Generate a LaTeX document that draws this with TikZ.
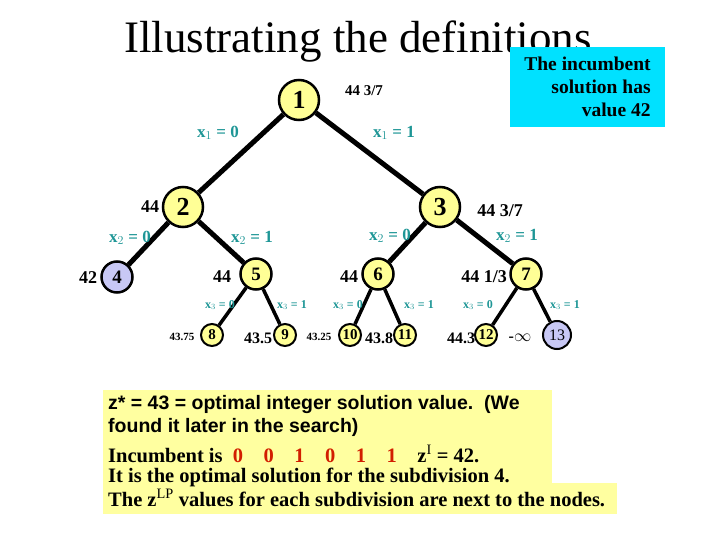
\documentclass[tikz,border=0pt]{standalone}
\usepackage{fontspec}
\setmainfont{Liberation Serif}
\newfontfamily\arial{Liberation Sans}
\definecolor{nodey}{RGB}{255,255,150}
\definecolor{nodeb}{RGB}{200,200,245}
\definecolor{lab}{RGB}{30,150,150}
\definecolor{incb}{RGB}{0,225,255}
\definecolor{boxy}{RGB}{255,255,160}
\definecolor{redn}{RGB}{210,30,0}
\tikzset{
 tn/.style={circle,draw,line width=2.5pt,fill=nodey,inner sep=0pt,font=\bfseries},
 big/.style={tn,minimum size=40pt,font=\bfseries\fontsize{26}{26}\selectfont},
 mid/.style={tn,minimum size=31pt,font=\bfseries\fontsize{19}{19}\selectfont},
 sml/.style={tn,minimum size=22pt,line width=2pt,font=\bfseries\fontsize{15}{15}\selectfont},
 edge/.style={line width=5pt},
 edges/.style={line width=3.5pt},
 lb/.style={text=lab,font=\bfseries\fontsize{17}{17}\selectfont},
 lbs/.style={text=lab,font=\bfseries\fontsize{12}{12}\selectfont},
 val/.style={font=\bfseries\fontsize{18}{18}\selectfont},
 vals/.style={font=\bfseries\fontsize{16}{16}\selectfont},
 bt/.style={anchor=north west,inner sep=0pt,font=\bfseries\fontsize{20.5}{20.5}\selectfont},
}
\begin{document}
\begin{tikzpicture}[x=1pt,y=-1pt]
\useasboundingbox (0,0) rectangle (720,540);
\node[font=\fontsize{45}{45}\selectfont] (title) at (358,42) {Illustrating the definitions};
\node[fill=incb,minimum width=155pt,minimum height=80pt,inner xsep=8pt,align=right,font=\bfseries\fontsize{19.5}{23}\selectfont] (inc) at (587.5,87) {The incumbent\\solution has\\value 42};
\node[big] (n1) at (299,100) {1};
\node[big] (n2) at (183,207) {2};
\node[big] (n3) at (440,207) {3};
\node[mid,fill=nodeb] (n4) at (117,277) {4};
\node[mid] (n5) at (256,274) {5};
\node[mid] (n6) at (378,274) {6};
\node[mid] (n7) at (526,274) {7};
\node[sml] (n8) at (212,335) {8};
\node[sml] (n9) at (285,335) {9};
\node[sml] (n10) at (350,335) {10};
\node[sml] (n11) at (405,335) {11};
\node[sml] (n12) at (486,335) {12};
\node[sml,minimum size=28pt,fill=nodeb,font=\fontsize{16}{16}\selectfont] (n13) at (557,335) {13};
\draw[edge] (n1) -- (n2);
\draw[edge] (n1) -- (n3);
\draw[edge] (n2) -- (n4);
\draw[edge] (n2) -- (n5);
\draw[edge] (n3) -- (n6);
\draw[edge] (n3) -- (n7);
\draw[edges] (n5) -- (n8);
\draw[edges] (n5) -- (n9);
\draw[edges] (n6) -- (n10);
\draw[edges] (n6) -- (n11);
\draw[edges] (n7) -- (n12);
\draw[edges] (n7) -- (n13);
\node[font=\bfseries\fontsize{15}{15}\selectfont] (v1) at (364,91) {44 3/7};
\node[lb] (e12) at (218,133) {x$_1$ = 0};
\node[lb] (e13) at (394,133) {x$_1$ = 1};
\node[val] (v2) at (150,207) {44};
\node[val] (v3) at (500,211) {44 3/7};
\node[lb] (e24) at (130,238) {x$_2$ = 0};
\node[lb] (e25) at (252,238) {x$_2$ = 1};
\node[lb] (e36) at (390,236) {x$_2$ = 0};
\node[lb] (e37) at (517,236) {x$_2$ = 1};
\node[val] (v4) at (88,278) {42};
\node[val] (v5) at (222,277) {44};
\node[val] (v6) at (349,277) {44};
\node[val] (v7) at (484,277) {44 1/3};
\node[lbs] (e58) at (220,305) {x$_3$ = 0};
\node[lbs] (e59) at (292,305) {x$_3$ = 1};
\node[lbs] (e610) at (348,305) {x$_3$ = 0};
\node[lbs] (e611) at (419,305) {x$_3$ = 1};
\node[lbs] (e712) at (478,305) {x$_3$ = 0};
\node[lbs] (e713) at (565,305) {x$_3$ = 1};
\node[font=\bfseries\fontsize{11}{11}\selectfont] (v8) at (182,337) {43.75};
\node[vals] (v9) at (258,338) {43.5};
\node[font=\bfseries\fontsize{11}{11}\selectfont] (v10) at (319,337) {43.25};
\node[vals] (v11) at (379,338) {43.8};
\node[vals] (v12) at (461,338) {44.3};
\node[vals] (v13) at (520,338) {-$\infty$};
\fill[boxy] (103,390) rectangle (552,483);
\fill[boxy] (103,483) rectangle (617,514);
\node[anchor=north west,align=left,inner sep=0pt,font=\arial\bfseries\fontsize{19.5}{23}\selectfont] (t1) at (108,395) {z* = 43 = optimal integer solution value.\ \ (We\\found it later in the search)};
\node[bt] (t2) at (108,445) {Incumbent is \ \textcolor{redn}{0\quad 0\quad 1\quad 0\quad 1\quad 1}\quad z$^{\mathrm{I}}$ = 42.};
\node[bt] (t3) at (108,468) {It is the optimal solution for the subdivision 4.};
\node[bt] (t4) at (108,489) {The z$^{\mathrm{LP}}$ values for each subdivision are next to the nodes.};
\end{tikzpicture}
\end{document}
